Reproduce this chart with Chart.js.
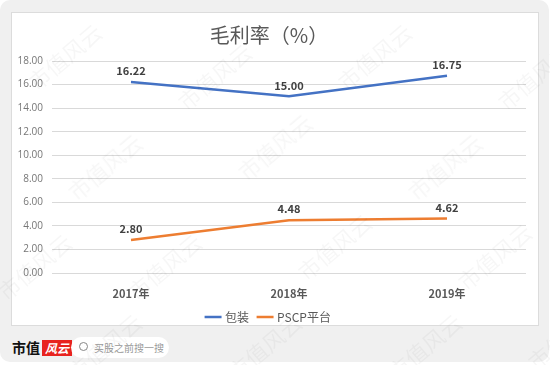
<!DOCTYPE html>
<html>
<head>
  <meta charset="UTF-8">
  <title>毛利率</title>
  <style>
    html, body { margin: 0; padding: 0; background: #fff; }
    #page { position: relative; width: 550px; height: 365px; overflow: hidden; }
    #bg { position: absolute; left: 0; top: 0; width: 549px; height: 362px; background: #f0f0f0; border-radius: 10px; }
    #card { position: absolute; left: 11px; top: 12px; width: 526px; height: 312px; background: #fff; border: 1px solid #dcdcdc; }
    #card canvas { position: absolute; left: 0; top: 0; }
    .wm { position: absolute; font-family: "Noto Sans CJK SC"; font-size: 22px; color: rgba(0,0,0,0.035); transform: rotate(-40deg); white-space: nowrap; pointer-events: none; }
    #logo { position: absolute; left: 12px; top: 337px; font-family: "Noto Sans CJK SC"; font-weight: bold; font-size: 14px; color: #111; white-space: nowrap; }
    #logo span { display: inline-block; background: #e8231f; color: #fff; font-style: italic; font-size: 12px; padding: 0 3px; margin-left: 2px; line-height: 16px; }
    #search { position: absolute; left: 71px; top: 337px; width: 98px; height: 21px; border-radius: 11px; background: #fff; font-family: "Noto Sans CJK SC"; font-size: 10px; color: #999; line-height: 21px; white-space: nowrap; }
    #search i { position: absolute; left: 8px; top: 5px; width: 7px; height: 7px; border: 1.5px solid #888; border-radius: 50%; }
    #search b { position: absolute; left: 23px; top: 0; font-weight: normal; }
  </style>
</head>
<body>
<div id="page">
  <div id="bg"></div>
  <div id="card">
    <canvas id="myChart" width="526" height="312"></canvas>
  </div>
  <div id="logo">市值<span>风云</span></div>
  <div id="search"><i></i><b>买股之前搜一搜</b></div>
</div>
<script src="https://cdn.jsdelivr.net/npm/chart.js"></script>
<script>
const years = ['2017年', '2018年', '2019年'];
const baozhuang = [16.22, 15.00, 16.75];
const pscp = [2.80, 4.48, 4.62];
const seriesNames = ['包装', 'PSCP平台'];

// watermarks
const wmSpots = [[20, 40], [170, 60], [330, 40], [490, 60], [60, 150], [230, 130], [400, 150],
  [-10, 250], [120, 250], [290, 230], [450, 240], [60, 330], [220, 330], [380, 330], [520, 320]];
const page = document.getElementById('page');
wmSpots.forEach(p => {
  const d = document.createElement('div');
  d.className = 'wm';
  d.textContent = '市值风云';
  d.style.left = p[0] + 'px';
  d.style.top = p[1] + 'px';
  page.appendChild(d);
});

const valueLabels = {
  id: 'valueLabels',
  afterDatasetsDraw(chart) {
    const ctx = chart.ctx;
    ctx.save();
    ctx.font = 'bold 11px "Noto Sans CJK SC"';
    ctx.fillStyle = '#404040';
    ctx.textAlign = 'center';
    ctx.textBaseline = 'middle';
    chart.data.datasets.forEach((ds, i) => {
      chart.getDatasetMeta(i).data.forEach((pt, j) => {
        ctx.fillText(ds.data[j].toFixed(2), pt.x, pt.y - 11);
      });
    });
    ctx.restore();
  }
};

const myChart = new Chart(document.getElementById('myChart'), {
  type: 'line',
  data: {
    labels: years,
    datasets: [{
      label: seriesNames[0],
      data: baozhuang,
      borderColor: '#4472C4',
      backgroundColor: '#4472C4',
      borderWidth: 2.5,
      pointRadius: 0,
      tension: 0
    }, {
      label: seriesNames[1],
      data: pscp,
      borderColor: '#ED7D31',
      backgroundColor: '#ED7D31',
      borderWidth: 2.5,
      pointRadius: 0,
      tension: 0
    }]
  },
  options: {
    responsive: false,
    animation: false,
    layout: { padding: { left: 0, right: 12, top: 0, bottom: -8 } },
    plugins: {
      title: {
        display: true,
        text: '毛利率（%）',
        color: '#595959',
        font: { family: 'Noto Sans CJK SC', size: 20, weight: 'normal' },
        padding: { top: 10, bottom: 14 }
      },
      legend: {
        position: 'bottom',
        labels: {
          usePointStyle: true,
          pointStyle: 'line',
          boxWidth: 23,
          padding: 10,
          color: '#595959',
          font: { family: 'Noto Sans CJK SC', size: 12 }
        }
      },
      tooltip: { enabled: false }
    },
    scales: {
      x: {
        offset: true,
        grid: { display: false },
        border: { display: false },
        ticks: { color: '#595959', font: { family: 'Noto Sans CJK SC', size: 11, weight: 'bold' }, padding: 6 },
        afterFit: s => { s.height = 28; }
      },
      y: {
        min: 0,
        max: 18,
        ticks: {
          stepSize: 2,
          color: '#767676',
          font: { family: 'Open Sans', size: 10 },
          padding: 9,
          callback: v => v.toFixed(2)
        },
        grid: { color: '#d9d9d9', drawTicks: false },
        border: { display: false },
        afterFit: s => { s.width = 40; }
      }
    }
  },
  plugins: [valueLabels]
});
</script>
</body>
</html>
